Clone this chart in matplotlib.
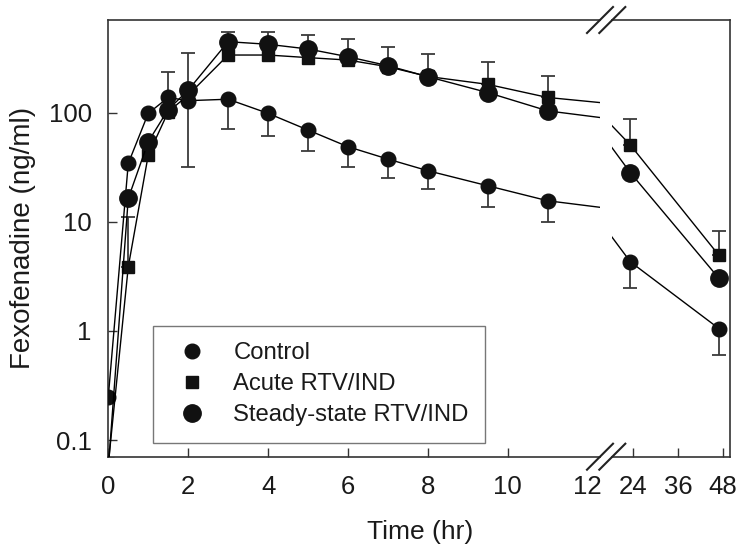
import numpy as np
import matplotlib
matplotlib.use("Agg")
import matplotlib.pyplot as plt
from matplotlib.lines import Line2D

plt.rcParams['font.family'] = ['Liberation Sans', 'DejaVu Sans']

# ---- data ----
time_hr = [0, 0.5, 1, 1.5, 2, 3, 4, 5, 6, 7, 8, 9.5, 11, 23.2, 47]
control = [0.25, 34.3, 98.7, 138, 129, 133, 98.7, 69.4, 48.8, 37.6, 29.4, 21.4, 15.6, 4.30, 1.05]
acute = [0.06, 3.87, 40.9, 102, 145, 338, 338, 320, 304, 264, 215, 182, 138, 50.6, 4.92]
steady = [0.055, 16.4, 54.2, 107, 161, 448, 424, 384, 326, 270, 214, 153, 104, 28.2, 3.03]

nan = np.nan
# error-bar ends (absolute values); nan = no bar
control_low = [nan, nan, nan, nan, 32, 70.4, 61.5, 44.8, 31.6, 25.3, 19.8, 13.7, 10.0, 2.48, 0.607]
acute_up = [nan, 11.0, nan, 238, nan, nan, nan, nan, nan, nan, nan, 290, 218, 87, 8.27]
steady_up = [nan, nan, nan, nan, 351, 547, 553, 516, 471, 403, 346, nan, nan, nan, nan]

legend_labels = ["Control", "Acute RTV/IND", "Steady-state RTV/IND"]
left_ticks = [0, 2, 4, 6, 8, 10, 12]
right_ticks = [24, 36, 48]
y_ticks = [0.1, 1, 10, 100]
y_ticklabels = ["0.1", "1", "10", "100"]

W, H = 749, 555
fig = plt.figure(figsize=(W / 100, H / 100), dpi=100)

def fx(px):
    return px / W

def fy(py):
    return 1 - py / H

top_px, bot_px = 20, 456.7
axL = fig.add_axes([fx(108.3), fy(bot_px), fx(600 - 108.3), (bot_px - top_px) / H])
axR = fig.add_axes([fx(612), fy(bot_px), fx(730 - 612), (bot_px - top_px) / H])

t = np.array(time_hr)
series = [
    (np.array(control), 'o', 10.5),
    (np.array(acute), 's', 9),
    (np.array(steady), 'o', 12.5),
]
errs = [
    (np.array(control), np.array(control_low), 'low'),
    (np.array(acute), np.array(acute_up), 'up'),
    (np.array(steady), np.array(steady_up), 'up'),
]

mk_color = '#111111'
err_color = '#3a3a3a'
spine_color = '#333333'

for ax in (axL, axR):
    ax.set_yscale('log')
    ax.set_ylim(0.0703, 708)
    for vals, ends, kind in errs:
        m = ~np.isnan(ends)
        if kind == 'low':
            yerr = [vals[m] - ends[m], np.zeros(m.sum())]
        else:
            yerr = [np.zeros(m.sum()), ends[m] - vals[m]]
        ax.errorbar(t[m], vals[m], yerr=yerr, fmt='none', ecolor=err_color,
                    elinewidth=1.3, capsize=4.8, capthick=1.3, zorder=2)
    handles = []
    for vals, mk, ms in series:
        h, = ax.plot(t, vals, color='black', lw=1.0, marker=mk, ms=ms,
                     mfc=mk_color, mec=mk_color, zorder=3)
        handles.append(h)
    ax.minorticks_off()
    ax.tick_params(direction='in', length=6.5, width=1.0, color=spine_color,
                   labelsize=18.5, labelcolor='#1a1a1a')
    for s in ax.spines.values():
        s.set_color(spine_color)
        s.set_linewidth(1.2)

axL.set_xlim(0, 12.31)
axL.set_xticks(left_ticks)
axL.set_xticklabels([str(v) for v in left_ticks])
axL.xaxis.get_major_ticks()[-1].tick1line.set_visible(False)
axL.set_yticks(y_ticks)
axL.set_yticklabels(y_ticklabels)
axL.spines['right'].set_visible(False)
axL.tick_params(axis='x', pad=13)
axL.tick_params(axis='y', pad=12)

axR.set_xlim(18.27, 49.96)
axR.set_xticks(right_ticks)
axR.set_xticklabels([str(v) for v in right_ticks])
axR.tick_params(axis='x', pad=13)
axR.spines['left'].set_visible(False)
axR.tick_params(axis='y', left=False, right=False, labelleft=False)

axL.set_ylabel("Fexofenadine (ng/ml)", fontsize=20, color='#1a1a1a', labelpad=9)
fig.text(fx(420), fy(532), "Time (hr)", fontsize=19, color='#1a1a1a',
         ha='center', va='center')

# break marks
for yc in (top_px, bot_px):
    for xc in (600, 612.3):
        fig.add_artist(Line2D([fx(xc - 13), fx(xc + 13)], [fy(yc + 13), fy(yc - 13)],
                              color='#222222', lw=1.5))

leg = axL.legend(handles, legend_labels, loc='upper left',
                 bbox_to_anchor=((153 - 108.3) / 491.7, (bot_px - 326) / (bot_px - top_px)),
                 borderaxespad=0, fontsize=17.2, numpoints=1, frameon=True, fancybox=False,
                 edgecolor='#555555', handlelength=1.93, handletextpad=0.75,
                 borderpad=0.68, labelspacing=0.38)
leg.get_frame().set_linewidth(1.0)
for h in leg.get_lines():
    h.set_linestyle('none')
for txt in leg.get_texts():
    txt.set_color('#1a1a1a')

fig.savefig("out.png", dpi=100)
